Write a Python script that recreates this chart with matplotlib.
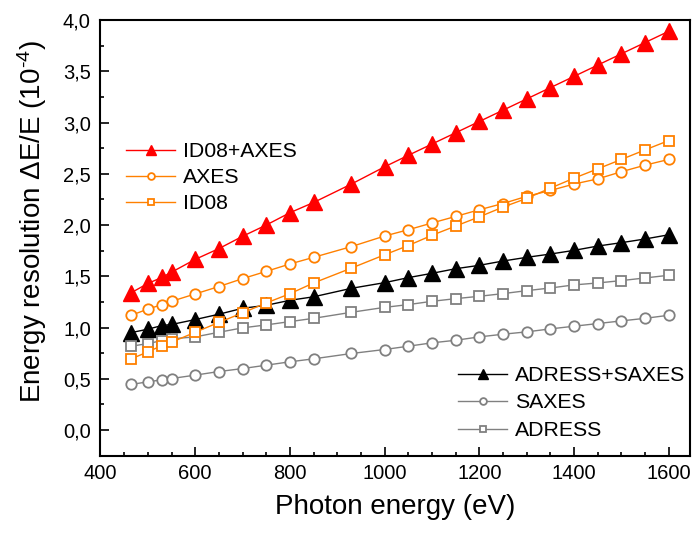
import matplotlib
matplotlib.use("Agg")
import matplotlib.pyplot as plt
from matplotlib.ticker import MultipleLocator, FuncFormatter

plt.rcParams['font.family'] = ['Liberation Sans', 'DejaVu Sans']
plt.rcParams['mathtext.fontset'] = 'custom'
plt.rcParams['mathtext.rm'] = 'Liberation Sans'
plt.rcParams['mathtext.default'] = 'regular'

# photon energies (eV)
energy = [465, 500, 530, 550, 600, 650, 700, 750, 800, 850, 930, 1000,
          1050, 1100, 1150, 1200, 1250, 1300, 1350, 1400, 1450, 1500, 1550, 1600]

# resolution values (1e-4)
id08_axes = [1.34, 1.43, 1.49, 1.54, 1.665, 1.77, 1.89, 2.00, 2.12, 2.22, 2.40, 2.568,
             2.68, 2.79, 2.90, 3.01, 3.12, 3.23, 3.34, 3.45, 3.56, 3.67, 3.78, 3.89]
axes = [1.12, 1.18, 1.224, 1.256, 1.328, 1.40, 1.477, 1.548, 1.62, 1.685, 1.79, 1.893,
        1.954, 2.02, 2.084, 2.149, 2.21, 2.28, 2.337, 2.40, 2.45, 2.52, 2.584, 2.64]
id08 = [0.695, 0.763, 0.825, 0.857, 0.954, 1.05, 1.143, 1.24, 1.33, 1.435, 1.58, 1.71,
        1.80, 1.90, 1.99, 2.08, 2.175, 2.26, 2.36, 2.457, 2.548, 2.64, 2.733, 2.824]
adress_saxes = [0.951, 0.984, 1.02, 1.03, 1.078, 1.13, 1.188, 1.217, 1.266, 1.30, 1.383, 1.438,
                1.487, 1.529, 1.574, 1.607, 1.649, 1.685, 1.717, 1.753, 1.795, 1.828, 1.864, 1.905]
saxes = [0.445, 0.471, 0.49, 0.503, 0.536, 0.571, 0.60, 0.633, 0.666, 0.695, 0.747, 0.786,
         0.818, 0.851, 0.876, 0.909, 0.935, 0.958, 0.987, 1.013, 1.039, 1.065, 1.09, 1.12]
adress = [0.818, 0.844, 0.873, 0.89, 0.909, 0.954, 0.997, 1.026, 1.058, 1.09, 1.149, 1.197,
          1.224, 1.256, 1.282, 1.305, 1.331, 1.36, 1.386, 1.416, 1.435, 1.458, 1.484, 1.51]

red = '#ff0000'
orange = '#ff8000'
grey = '#808080'

fig = plt.figure(figsize=(6.92, 5.33), dpi=100)
ax = fig.add_axes([0.1452, 0.145, 0.852, 0.8175])

l4, = ax.plot(energy, adress_saxes, '-^', color='black', lw=1, ms=11, zorder=2,
              label='ADRESS+SAXES')
l5, = ax.plot(energy, saxes, '-o', color=grey, lw=1, ms=7.5, mew=1.3, mfc='white',
              zorder=2, label='SAXES')
l6, = ax.plot(energy, adress, '-s', color=grey, lw=1, ms=6.5, mew=1.3, mfc='white',
              zorder=2, label='ADRESS')
l1, = ax.plot(energy, id08_axes, '-^', color=red, lw=1, ms=11, zorder=4,
              label='ID08+AXES')
l2, = ax.plot(energy, axes, '-o', color=orange, lw=1, ms=7.5, mew=1.3, mfc='white',
              zorder=3, label='AXES')
l3, = ax.plot(energy, id08, '-s', color=orange, lw=1, ms=6.5, mew=1.3, mfc='white',
              zorder=3, label='ID08')

ax.set_xlim(400, 1645)
ax.set_ylim(-0.25, 4.0)
ax.xaxis.set_major_locator(MultipleLocator(200))
ax.xaxis.set_minor_locator(MultipleLocator(50))
ax.yaxis.set_major_locator(MultipleLocator(0.5))
ax.yaxis.set_minor_locator(MultipleLocator(0.25))
ax.yaxis.set_major_formatter(FuncFormatter(lambda v, p: f'{v:.1f}'.replace('.', ',')))

ax.tick_params(which='both', direction='in', top=False, right=False, width=1.2,
               labelsize=14.5)
ax.tick_params(which='major', length=6.5)
ax.tick_params(which='minor', length=3)
ax.tick_params(axis='x', pad=6)
ax.tick_params(axis='y', pad=7)
for s in ax.spines.values():
    s.set_linewidth(1.5)

ax.set_xlabel('Photon energy (eV)', fontsize=20, labelpad=8)
ax.set_ylabel('Energy resolution ΔE/E (10$^{\u2010 4}$)', fontsize=20)
ax.yaxis.set_label_coords(-0.088, 0.5375)

leg1 = ax.legend(handles=[l1, l2, l3], loc='upper left', bbox_to_anchor=(0.044, 0.719),
                 frameon=False, fontsize=15.3, borderpad=0, borderaxespad=0,
                 handlelength=2.3, handletextpad=0.35, labelspacing=0.33, markerscale=0.65)
ax.add_artist(leg1)
ax.legend(handles=[l4, l5, l6], loc='upper left', bbox_to_anchor=(0.607, 0.206),
          frameon=False, fontsize=15.3, borderpad=0, borderaxespad=0,
          handlelength=2.3, handletextpad=0.35, labelspacing=0.4, markerscale=0.65)

fig.savefig('out.png', dpi=100)
